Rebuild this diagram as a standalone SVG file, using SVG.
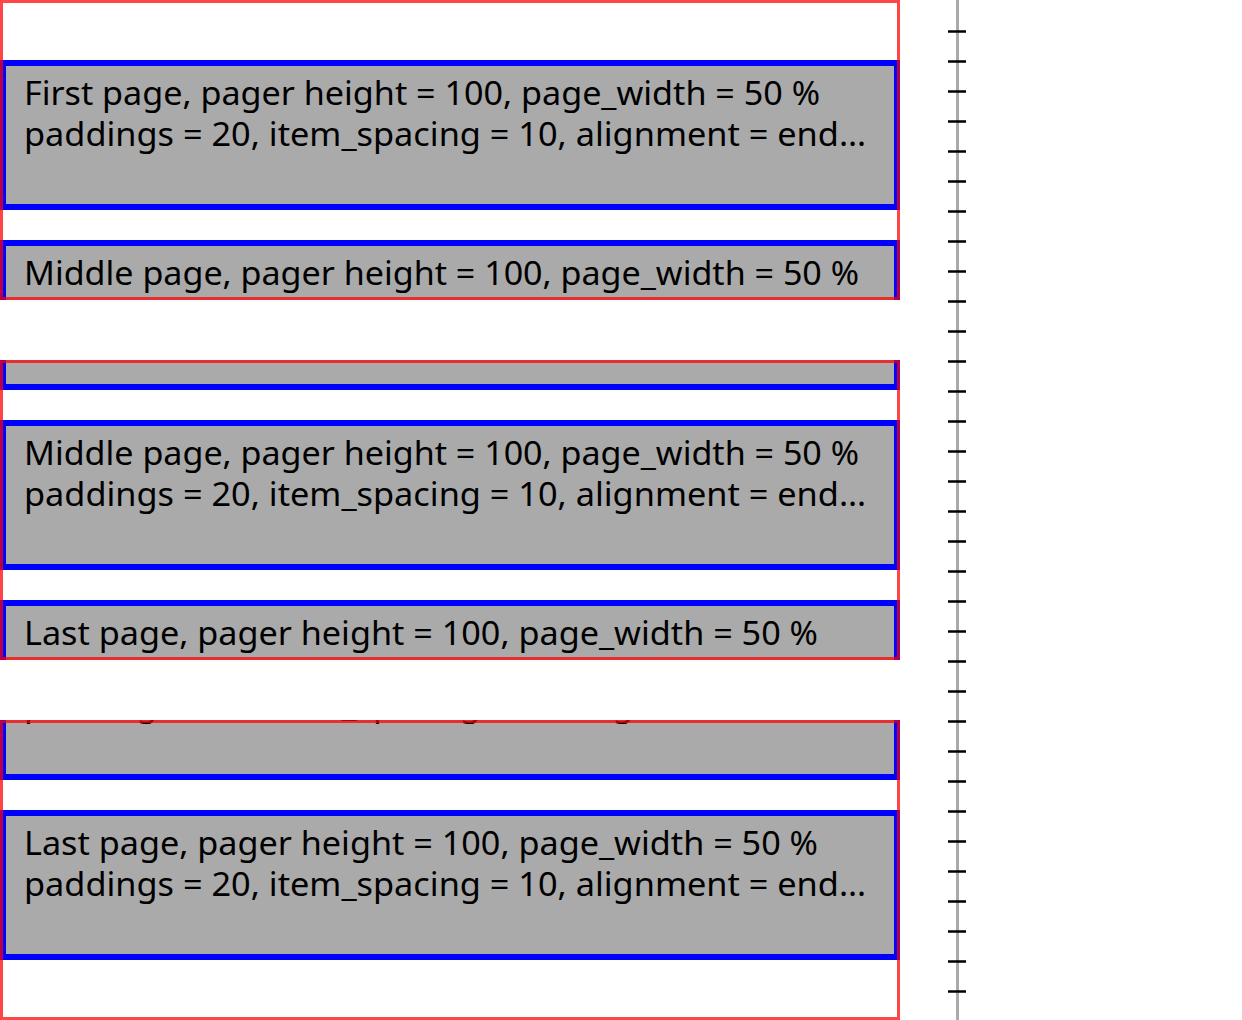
<svg xmlns="http://www.w3.org/2000/svg" width="1242" height="1020" viewBox="0 0 1242 1020">
<style>
.page{fill:#aaaaaa;stroke:#0000ff;stroke-width:6}
.frame{fill:none;stroke:#ff0000;stroke-opacity:0.73;stroke-width:3}
.t{font-family:"Noto Sans","Open Sans","DejaVu Sans",sans-serif;font-size:32px;fill:#000}
.tick{stroke:#000;stroke-width:2.6}
</style>
<defs>
<clipPath id="c1"><rect x="0" y="0" width="900" height="300"/></clipPath>
<clipPath id="c2"><rect x="0" y="360" width="900" height="300"/></clipPath>
<clipPath id="c3"><rect x="0" y="720" width="900" height="300"/></clipPath>
</defs>
<rect width="1242" height="1020" fill="#fff"/>

<g id="frame1">
<g clip-path="url(#c1)">
<g id="f1-first">
<rect class="page" x="3" y="63" width="894" height="144"/>
<text class="t" x="24" y="105" textLength="796" lengthAdjust="spacingAndGlyphs">First page, pager height = 100, page_width = 50 %</text>
<text class="t" x="24" y="146" textLength="842" lengthAdjust="spacingAndGlyphs">paddings = 20, item_spacing = 10, alignment = end…</text>
</g>
<g id="f1-middle">
<rect class="page" x="3" y="243" width="894" height="144"/>
<text class="t" x="24" y="285" textLength="835" lengthAdjust="spacingAndGlyphs">Middle page, pager height = 100, page_width = 50 %</text>
</g>
</g>
<rect class="frame" x="1.5" y="1.5" width="897" height="297"/>
</g>

<g id="frame2">
<g clip-path="url(#c2)">
<g id="f2-first">
<rect class="page" x="3" y="243" width="894" height="144"/>
</g>
<g id="f2-middle">
<rect class="page" x="3" y="423" width="894" height="144"/>
<text class="t" x="24" y="465" textLength="835" lengthAdjust="spacingAndGlyphs">Middle page, pager height = 100, page_width = 50 %</text>
<text class="t" x="24" y="506" textLength="842" lengthAdjust="spacingAndGlyphs">paddings = 20, item_spacing = 10, alignment = end…</text>
</g>
<g id="f2-last">
<rect class="page" x="3" y="603" width="894" height="144"/>
<text class="t" x="24" y="645" textLength="794" lengthAdjust="spacingAndGlyphs">Last page, pager height = 100, page_width = 50 %</text>
</g>
</g>
<rect class="frame" x="1.5" y="361.5" width="897" height="297"/>
</g>

<g id="frame3">
<g clip-path="url(#c3)">
<g id="f3-middle">
<rect class="page" x="3" y="633" width="894" height="144"/>
<text class="t" x="24" y="716" textLength="842" lengthAdjust="spacingAndGlyphs">paddings = 20, item_spacing = 10, alignment = end…</text>
</g>
<g id="f3-last">
<rect class="page" x="3" y="813" width="894" height="144"/>
<text class="t" x="24" y="855" textLength="794" lengthAdjust="spacingAndGlyphs">Last page, pager height = 100, page_width = 50 %</text>
<text class="t" x="24" y="896" textLength="842" lengthAdjust="spacingAndGlyphs">paddings = 20, item_spacing = 10, alignment = end…</text>
</g>
</g>
<rect class="frame" x="1.5" y="721.5" width="897" height="297"/>
</g>

<g id="ruler">
<rect x="956" y="0" width="3" height="1020" fill="#aaaaaa"/>
<path class="tick" d="M948 31.5H966M948 61.5H966M948 91.5H966M948 121.5H966M948 151.5H966M948 181.5H966M948 211.5H966M948 241.5H966M948 271.5H966M948 301.5H966M948 331.5H966M948 361.5H966M948 391.5H966M948 421.5H966M948 451.5H966M948 481.5H966M948 511.5H966M948 541.5H966M948 571.5H966M948 601.5H966M948 631.5H966M948 661.5H966M948 691.5H966M948 721.5H966M948 751.5H966M948 781.5H966M948 811.5H966M948 841.5H966M948 871.5H966M948 901.5H966M948 931.5H966M948 961.5H966M948 991.5H966"/>
</g>
</svg>
